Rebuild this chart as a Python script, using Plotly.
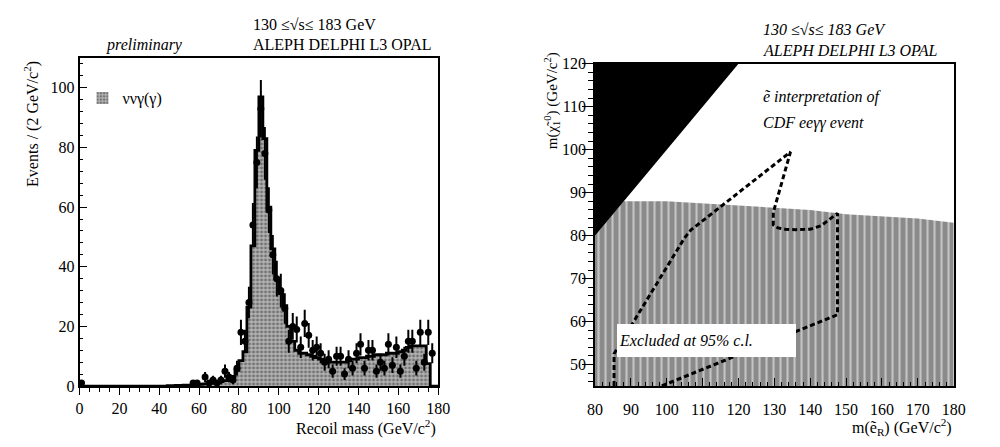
import numpy as np
import plotly.graph_objects as go

# ---------------- left panel: recoil mass spectrum ----------------
bin_width = 2.0
bin_lo = list(range(0, 180, 2))  # lower edges of the 2 GeV bins
mc_events = (
    [0.0] * 22
    + [0.1, 0.1, 0.2, 0.2, 0.3, 0.3, 0.4, 0.5, 0.6, 0.7, 0.8, 1.0, 1.2, 1.5, 1.8, 2.3, 3.2,
       5.3, 8.5, 11.5, 26.5, 47, 79, 97, 83, 60, 46, 36, 31, 27, 20, 15, 12, 11, 11, 10.5,
       10, 9.5, 9, 8.5, 8, 8, 8, 8, 8, 8.5, 9, 9, 9.5, 9.5, 10, 10, 10.5, 10.5, 10.5, 11,
       11, 11, 11.5, 12, 13, 13.5, 13.5, 13.5, 13.5, 7.5, 0, 0]
)

data_mass = [1, 57, 59, 63, 65, 67, 69, 71, 73, 75, 77, 79, 81, 83, 85, 87, 89, 91, 93, 95,
             97, 99, 101, 103, 105, 107, 109, 111, 113, 115, 117, 119, 121, 123, 125, 127,
             129, 131, 133, 135, 137, 139, 141, 143, 145, 147, 149, 151, 153, 155, 157, 159,
             161, 163, 165, 167, 169, 171, 173, 175, 177]
data_events = [1, 1, 1, 3, 1, 2, 1, 2, 5, 3, 2, 6, 18, 15, 28, 54, 75, 93, 78, 59,
               44, 36, 32, 26, 15, 20, 19, 13, 21, 17, 12, 13, 11, 8, 9, 5,
               10, 10, 4, 9, 6, 11, 14, 6, 12, 12, 5, 8, 6, 14, 7, 13,
               5, 10, 15, 15, 6, 18, 8, 18, 11]

# ---------------- right panel: selectron / neutralino plane ----------------
excl_me = [80, 88, 100, 110, 120, 130, 140, 150, 160, 170, 180]
excl_mchi = [80, 88, 88, 87.5, 87, 86.5, 86, 85, 84.5, 84, 83]
forbidden_me = [80, 120, 80]
forbidden_mchi = [80, 120, 120]
cdf_me = [85.3, 85.3, 90.7, 104.9, 106.7, 134.5, 129.7, 129.7, 131, 133, 136, 140, 143,
          146, 147.6, 147.6, 134.5, 98.5]
cdf_mchi = [45, 52.5, 59.9, 79.4, 81.3, 99.5, 85.4, 82.5, 81.8, 81.5, 81.4, 81.5, 82.3,
            84.3, 85.2, 61.6, 57.2, 45]

W, H = 1000, 447
FONT = "Liberation Serif"


def px(x):
    return x / W


def py(y):
    return 1 - y / H


fig = go.Figure()

# MC histogram: stippled bars plus a step outline
centers = [lo + bin_width / 2 for lo in bin_lo]
fig.add_trace(go.Bar(
    x=centers, y=mc_events, width=bin_width,
    name="\u03bd\u03bd\u03b3(\u03b3)",
    marker=dict(color="#a8a8a8", line=dict(width=0),
                pattern=dict(shape=".", fgcolor="#2e2e2e", bgcolor="#b4b4b4",
                             size=4, solidity=0.42)),
    xaxis="x", yaxis="y", showlegend=True,
))
edges = bin_lo + [bin_lo[-1] + bin_width]
fig.add_trace(go.Scatter(
    x=edges, y=mc_events + [mc_events[-1]], mode="lines", line_shape="hv",
    line=dict(color="black", width=2.8), xaxis="x", yaxis="y", showlegend=False,
    hoverinfo="skip",
))
# data points with Poisson errors
fig.add_trace(go.Scatter(
    x=data_mass, y=data_events, mode="markers",
    marker=dict(color="black", size=7),
    error_y=dict(type="data", array=np.sqrt(np.array(data_events, float)),
                 color="black", thickness=2, width=0),
    xaxis="x", yaxis="y", showlegend=False,
))

# excluded region (striped), kinematically forbidden triangle, CDF contour
fig.add_trace(go.Scatter(
    x=excl_me + [excl_me[-1], excl_me[0]], y=excl_mchi + [45, 45],
    fill="toself", mode="lines", line=dict(width=0),
    fillcolor="#8a8a8a",
    fillpattern=dict(shape="|", fgcolor="#ffffff", bgcolor="#8a8a8a", size=7,
                     solidity=0.3),
    xaxis="x2", yaxis="y2", showlegend=False, hoverinfo="skip",
))
fig.add_trace(go.Scatter(
    x=forbidden_me, y=forbidden_mchi, fill="toself", mode="lines",
    line=dict(width=0, color="black"), fillcolor="black",
    xaxis="x2", yaxis="y2", showlegend=False, hoverinfo="skip",
))
fig.add_trace(go.Scatter(
    x=cdf_me, y=cdf_mchi, mode="lines",
    line=dict(color="black", width=3, dash="5px,3px"),
    xaxis="x2", yaxis="y2", showlegend=False, hoverinfo="skip",
))

tickfont = dict(family=FONT, size=16, color="black")
axis_common = dict(showline=True, linecolor="black", linewidth=1.5, mirror=True,
                   showgrid=False, zeroline=False, tickfont=tickfont,
                   tickcolor="black", tickwidth=1.3)

fig.update_layout(
    width=W, height=H, margin=dict(l=0, r=0, t=0, b=0),
    paper_bgcolor="white", plot_bgcolor="white",
    font=dict(family=FONT, color="black"),
    bargap=0,
    xaxis=dict(domain=[px(73), px(439)], range=[0, 180], anchor="y",
               ticks="outside", ticklen=7, dtick=20, tick0=0,
               minor=dict(dtick=5, ticks="outside", ticklen=4, tickcolor="black",
                          tickwidth=1.2),
               **axis_common),
    yaxis=dict(domain=[py(393), py(52)], range=[0, 110], anchor="x",
               ticks="inside", ticklen=8, dtick=20, tick0=0,
               minor=dict(dtick=4, ticks="inside", ticklen=4, tickcolor="black",
                          tickwidth=1.2),
               **axis_common),
    xaxis2=dict(domain=[px(599), px(965)], range=[80, 180], anchor="y2",
                ticks="inside", ticklen=8, dtick=10, tick0=0,
                ticklabelstandoff=8,
                minor=dict(dtick=2, ticks="inside", ticklen=4, tickcolor="black",
                           tickwidth=1.2),
                **axis_common),
    yaxis2=dict(domain=[py(393), py(58)], range=[45, 120], anchor="x2",
                ticks="outside", ticklen=11, dtick=10, tick0=0,
                ticklabelstandoff=-7,
                minor=dict(dtick=2, ticks="outside", ticklen=5, tickcolor="black",
                           tickwidth=1.2),
                **axis_common),
    legend=dict(x=px(76), y=py(76), xanchor="left", yanchor="top",
                bgcolor="rgba(0,0,0,0)", font=dict(family=FONT, size=16, color="black"),
                itemwidth=30),
)

anns = [
    # left panel texts
    dict(text="130 \u2264\u221as\u2264 183 GeV", x=px(248), y=py(17), size=16),
    dict(text="ALEPH DELPHI L3 OPAL", x=px(248), y=py(38), size=16),
    dict(text="<i>preliminary</i>", x=px(98), y=py(38), size=16),
    dict(text="Recoil mass (GeV/c<sup>2</sup>)", x=px(439), y=py(436), size=16,
         xanchor="right"),
    dict(text="Events / (2 GeV/c<sup>2</sup>)", x=px(24), y=py(121), size=16,
         xanchor="center", textangle=-90),
    # right panel texts
    dict(text="<i>130 \u2264\u221as\u2264 183 GeV</i>", x=px(768), y=py(22), size=16),
    dict(text="<i>ALEPH DELPHI L3 OPAL</i>", x=px(768), y=py(44), size=16),
    dict(text="<i>\u1ebd interpretation of</i>", x=px(768), y=py(93), size=16),
    dict(text="<i>CDF ee\u03b3\u03b3 event</i>", x=px(768), y=py(120), size=16),
    dict(text="m(\u1ebd<sub>R</sub>) (GeV/c<sup>2</sup>)", x=px(965), y=py(436),
         size=16, xanchor="right"),
    dict(text="m(\u03c7\u0303<sub>1</sub><sup>0</sup>) (GeV/c<sup>2</sup>)", x=px(555),
         y=py(96), size=15, xanchor="center", textangle=-90),
]
for a in anns:
    fig.add_annotation(
        text=a["text"], x=a["x"], y=a["y"], xref="paper", yref="paper",
        xanchor=a.get("xanchor", "left"), yanchor="middle", showarrow=False,
        textangle=a.get("textangle", 0),
        font=dict(family=FONT, size=a["size"], color="black"),
    )

# white label box inside the excluded region
fig.add_annotation(
    text="<i>Excluded at 95% c.l.</i>", x=px(621), y=py(346), xref="paper", yref="paper",
    xanchor="left", yanchor="middle", showarrow=False, align="left",
    width=175, height=29, bgcolor="white", borderpad=2, borderwidth=0,
    font=dict(family=FONT, size=16, color="black"),
)

fig.write_html("out.html")
